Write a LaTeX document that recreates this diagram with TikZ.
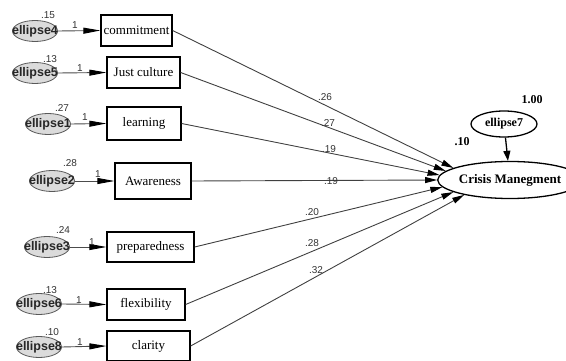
\documentclass[tikz,border=0pt]{standalone}
\usepackage{fontspec}
\setmainfont{Liberation Serif}
\newfontfamily\numfont{Liberation Sans}
\usetikzlibrary{arrows.meta,shapes.geometric}
\begin{document}
\begin{tikzpicture}[x=1pt,y=-1pt,
  obsbox/.style={draw, line width=1.3pt, inner sep=0pt, minimum height=31pt,
    font=\fontsize{13}{14}\selectfont},
  errell/.style={ellipse, draw=black!65, line width=0.8pt, fill=black!14, inner sep=0pt,
    minimum width=45pt, minimum height=21pt,
    label={[text=black!85, inner sep=0pt, font=\numfont\bfseries\fontsize{12.5}{13}\selectfont]center:#1}},
  latell/.style={ellipse, draw, line width=1.3pt, inner sep=0pt,
    font=\bfseries\fontsize{13}{14}\selectfont},
  num/.style={font=\numfont\fontsize{10}{11}\selectfont, text=black!80, inner sep=0pt},
  bnum/.style={font=\bfseries\fontsize{12}{13}\selectfont, inner sep=0pt},
  errarrow/.style={draw=black!70, line width=0.9pt, -{Triangle[length=17pt,width=6pt,fill=black,color=black]}},
  patharrow/.style={draw=black!75, line width=0.9pt, -{Triangle[length=12pt,width=6pt,fill=black,color=black]}}
]
\useasboundingbox (0,0) rectangle (566,361);
% boxes
\node[obsbox, minimum width=71pt] (b1) at (136.5,30.5) {commitment};
\node[obsbox, minimum width=73pt] (b2) at (143.5,72.5) {Just culture};
\node[obsbox, minimum width=74pt, minimum height=33pt] (b3) at (144,123.5) {learning};
\node[obsbox, minimum width=76pt, minimum height=36pt] (b4) at (153,181) {Awareness};
\node[obsbox, minimum width=87pt, minimum height=30pt] (b5) at (150.5,247) {preparedness};
\node[obsbox, minimum width=78pt] (b6) at (146,304.5) {flexibility};
\node[obsbox, minimum width=83pt, minimum height=30pt] (b7) at (148.5,346) {clarity};
% error ellipses
\node[errell=ellipse4] (e4) at (35,31) {};
\node[errell=ellipse5] (e5) at (35,73) {};
\node[errell=ellipse1] (e1) at (48,124) {};
\node[errell=ellipse2] (e2) at (52,181) {};
\node[errell=ellipse3] (e3) at (47,247) {};
\node[errell=ellipse6] (e6) at (39,304) {};
\node[errell=ellipse8] (e8) at (39,347) {};
% variances
\node[num] (v4) at (48,15) {.15};
\node[num] (v5) at (50,59) {.13};
\node[num] (v1) at (62,108) {.27};
\node[num] (v2) at (70,163) {.28};
\node[num] (v3) at (63,230) {.24};
\node[num] (v6) at (50,290) {.13};
\node[num] (v8) at (52,332) {.10};
% error arrows
\draw[errarrow] (e4.east) -- (b1.west);
\draw[errarrow] (e5.east) -- (b2.west);
\draw[errarrow] (e1.east) -- (b3.west);
\draw[errarrow] (e2.east) -- (b4.west);
\draw[errarrow] (e3.east) -- (b5.west);
\draw[errarrow] (e6.east) -- (b6.west);
\draw[errarrow] (e8.east) -- (b7.west);
\node[num] (o4) at (75,25) {1};
\node[num] (o5) at (80,68) {1};
\node[num] (o1) at (85,117) {1};
\node[num] (o2) at (98,174) {1};
\node[num] (o3) at (92,242) {1};
\node[num] (o6) at (79,300) {1};
\node[num] (o8) at (80,342) {1};
% latent
\node[latell, minimum width=110pt, minimum height=37pt] (cm) at (510,180) {Crisis Manegment};
\node[latell, minimum width=66pt, minimum height=26pt, font=\bfseries\fontsize{12}{13}\selectfont] (e7) at (504,124) {ellipse7};
\node[bnum] (r7) at (532,100) {1.00};
\node[bnum] (rc) at (462,142) {.10};
\draw[line width=1.3pt, -{Triangle[length=10pt,width=7pt]}] (e7) -- (cm);
% paths
\draw[patharrow] (b1.east) -- (cm.168);
\draw[patharrow] (b2.east) -- (cm.172);
\draw[patharrow] (b3.east) -- (cm.176);
\draw[patharrow] (b4.east) -- (cm.180);
\draw[patharrow] (b5.east) -- (cm.186);
\draw[patharrow] (b6.east) -- (cm.192);
\draw[patharrow] (b7.east) -- (cm.198);
\node[num] (p1) at (325,97) {.26};
\node[num] (p2) at (328,123) {.27};
\node[num] (p3) at (329,149) {.19};
\node[num] (p4) at (331,181) {.19};
\node[num] (p5) at (312,212) {.20};
\node[num] (p6) at (312,243) {.28};
\node[num] (p7) at (316,270) {.32};
\end{tikzpicture}
\end{document}
